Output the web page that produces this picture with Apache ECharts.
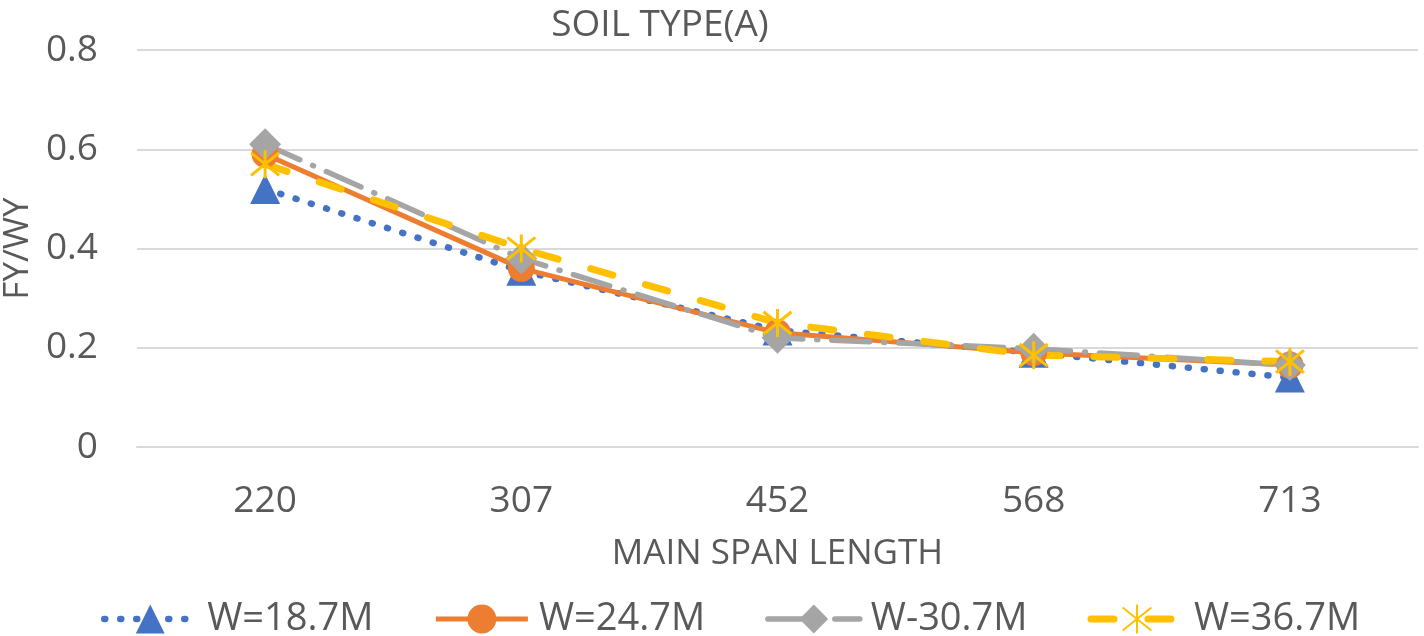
<!DOCTYPE html>
<html>
<head>
<meta charset="utf-8">
<script src="https://cdn.jsdelivr.net/npm/echarts@6/dist/echarts.min.js"></script>
<style>
  html, body { margin: 0; padding: 0; background: #fff; }
  #chart { width: 1424px; height: 636px; }
</style>
</head>
<body>
<div id="chart"></div>
<script>
// x categories (main span length)
const spans = ["220", "307", "452", "568", "713"];
// FY/WY per width
const w187 = [0.52, 0.355, 0.235, 0.19, 0.14];
const w247 = [0.59, 0.36, 0.23, 0.19, 0.165];
const w307 = [0.61, 0.38, 0.22, 0.198, 0.165];
const w367 = [0.57, 0.40, 0.25, 0.185, 0.172];
const names = ["W=18.7M", "W=24.7M", "W-30.7M", "W=36.7M"];

const font = "Open Sans";
const txt = "#595959";
const gridCol = "#d9d9d9";
// asterisk marker (x + vertical bar)
const starPath = "path://M10,0 L10,20 M2,2 L18,18 M2,18 L18,2";

const chart = echarts.init(document.getElementById("chart"));
chart.setOption({
  animation: false,
  textStyle: { fontFamily: font, color: txt },
  title: {
    text: "SOIL TYPE(A)",
    left: 655, top: 2, textAlign: "center",
    textStyle: { fontFamily: font, fontSize: 37, fontWeight: "normal", color: txt }
  },
  grid: { left: 137, right: 6, top: 50, bottom: 189, containLabel: false, outerBoundsMode: "none" },
  legend: {
    top: 595, left: 96,
    itemWidth: 92, itemHeight: 36, itemGap: 60,
    lineStyle: { width: "inherit", type: "inherit", cap: "inherit" },
    textStyle: { fontFamily: font, fontSize: 38, color: txt, padding: [0, 0, 0, 6] },
    data: names
  },
  xAxis: {
    type: "category",
    data: spans,
    boundaryGap: true,
    axisLine: { lineStyle: { color: gridCol, width: 2 } },
    axisTick: { show: false },
    axisLabel: { fontFamily: font, fontSize: 37, color: txt, margin: 36 },
    name: "MAIN SPAN LENGTH",
    nameLocation: "middle",
    nameGap: 90,
    nameTextStyle: { fontFamily: font, fontSize: 35, color: txt }
  },
  yAxis: {
    type: "value",
    min: 0, max: 0.8, interval: 0.2,
    axisLine: { show: false },
    axisTick: { show: false },
    splitLine: { lineStyle: { color: gridCol, width: 2 } },
    axisLabel: { fontFamily: font, fontSize: 37, color: txt, margin: 39,
      formatter: v => v === 0 ? "0" : v.toFixed(1) },
    name: "FY/WY",
    nameLocation: "middle",
    nameGap: 100,
    nameTextStyle: { fontFamily: font, fontSize: 35, color: txt }
  },
  series: [
    {
      name: names[0], type: "line", data: w187,
      color: "#4472C4",
      symbol: "triangle", symbolSize: 30,
      lineStyle: { width: 6.5, type: [1, 15], cap: "round" }
    },
    {
      name: names[1], type: "line", data: w247,
      color: "#ED7D31",
      symbol: "circle", symbolSize: 27,
      lineStyle: { width: 5 }
    },
    {
      name: names[2], type: "line", data: w307,
      color: "#A5A5A5",
      symbol: "diamond", symbolSize: 32,
      lineStyle: { width: 5.5, type: [38, 14, 1, 14], cap: "round" }
    },
    {
      name: names[3], type: "line", data: w367,
      color: "#FFC000",
      symbol: starPath, symbolSize: 28,
      itemStyle: { borderColor: "#FFC000", borderWidth: 3 },
      lineStyle: { width: 7, type: [23, 34], cap: "round" }
    }
  ]
});
</script>
</body>
</html>
